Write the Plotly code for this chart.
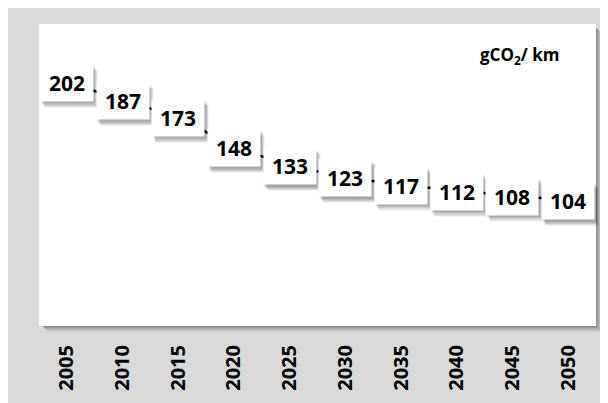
import plotly.graph_objects as go

# ------------------------------------------------------------------ #
# data
# ------------------------------------------------------------------ #
years = ["2005", "2010", "2015", "2020", "2025", "2030", "2035", "2040", "2045", "2050"]
emissions = [202, 187, 173, 148, 133, 123, 117, 112, 108, 104]
unit_label = "<b>gCO<sub>2</sub>/ km</b>"

# ------------------------------------------------------------------ #
# look  (page has an 8px body margin, so the figure is a bit smaller)
# ------------------------------------------------------------------ #
OFF = 8
W, H = 600, 395
m_l, m_r, m_t, m_b = 31, 12, 16, 72
plot_w = W - m_l - m_r
plot_h = H - m_t - m_b

grey_bg = "#d9d9d9"
font_fam = "Open Sans"


def px_x(p):
    # page pixel -> paper x
    return (p - OFF - m_l) / plot_w


def px_y(p):
    # page pixel (from top) -> paper y
    return (H - m_b - (p - OFF)) / plot_h


fig = go.Figure()

fig.add_trace(go.Scatter(
    x=years,
    y=emissions,
    mode="lines",
    line=dict(color="black", width=2.5),
    hoverinfo="x+y",
    showlegend=False,
))

# ------------------------------------------------------------------ #
# plot-area shadow + white plot area
# ------------------------------------------------------------------ #
shapes = []
shadow_cols = ["#d0d0d0", "#c4c4c4", "#b8b8b8", "#aaaaaa", "#9c9c9c", "#8c8c8c"]
for k, col in zip(range(6, 0, -1), shadow_cols):
    shapes.append(dict(
        type="rect", xref="paper", yref="paper", layer="below",
        x0=(k + 3) / plot_w, x1=1 + k / plot_w,
        y0=-k / plot_h, y1=1 - (k + 3) / plot_h,
        fillcolor=col, line=dict(width=0),
    ))

shapes.append(dict(
    type="rect", xref="paper", yref="paper", layer="below",
    x0=0, x1=1, y0=0, y1=1,
    fillcolor="white", line=dict(width=0),
))

# ------------------------------------------------------------------ #
# data labels (white boxes with soft shadow)
# category index is used for x: numeric-looking strings would be read as indices
# ------------------------------------------------------------------ #
annotations = []
box_w, box_h = 48, 32
for i, val in enumerate(emissions):
    for k in range(1, 6):
        annotations.append(dict(
            x=i, y=val, xref="x", yref="y",
            text=f"<b>{val}</b>", showarrow=False,
            font=dict(family=font_fam, size=21, color="rgba(0,0,0,0)"),
            bgcolor="rgba(0,0,0,0.085)", width=box_w, height=box_h, borderpad=2,
            xshift=k * 0.8, yshift=-1 - k * 1.2,
        ))

for i, val in enumerate(emissions):
    annotations.append(dict(
        x=i, y=val, xref="x", yref="y",
        text=f"<b>{val}</b>", showarrow=False,
        font=dict(family=font_fam, size=21, color="black"),
        bgcolor="white", width=box_w, height=box_h, borderpad=2,
        yshift=-1,
    ))

annotations.append(dict(
    x=px_x(519), y=px_y(56), xref="paper", yref="paper",
    xanchor="center", yanchor="middle",
    text=unit_label, showarrow=False,
    font=dict(family=font_fam, size=17, color="black"),
))

fig.update_layout(
    width=W, height=H,
    margin=dict(l=m_l, r=m_r, t=m_t, b=m_b),
    paper_bgcolor=grey_bg,
    plot_bgcolor="rgba(0,0,0,0)",
    shapes=shapes,
    annotations=annotations,
    xaxis=dict(
        type="category",
        range=[-0.5, len(years) - 0.5],
        tickangle=-90,
        tickfont=dict(family=font_fam, size=20, color="black", weight="bold"),
        showgrid=False, zeroline=False, showline=False,
        ticks="", ticklabelstandoff=14,
        fixedrange=True,
    ),
    yaxis=dict(
        range=[0, 250],
        visible=False,
        fixedrange=True,
    ),
)

fig.write_html("out.html")
